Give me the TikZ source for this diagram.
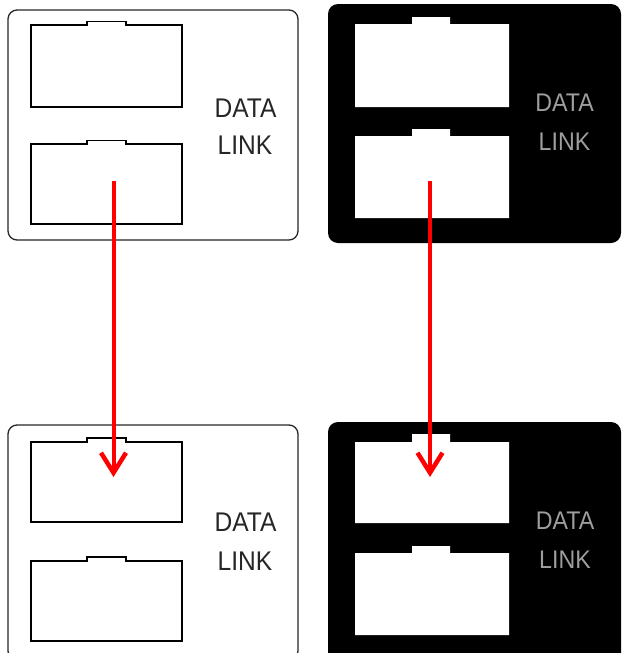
\documentclass[tikz,border=0pt]{standalone}
\usepackage{fontspec}
\setmainfont{Liberation Sans}
\newfontfamily\lblfont[FakeStretch=0.91]{Liberation Sans}
\usetikzlibrary{arrows.meta}
\begin{document}
\begin{tikzpicture}[x=1pt,y=-1pt,
  panelw/.style={draw=black!85,line width=1.3pt,rounded corners=9pt,fill=white},
  panelb/.style={fill=black,rounded corners=10pt},
  slotw/.style={draw=black,line width=1.3pt,fill=white},
  slotb/.style={fill=white},
  lblw/.style={text=black!85,font=\lblfont\fontsize{27}{30}\selectfont,anchor=base,inner sep=0pt},
  lblb/.style={text=black!38,font=\lblfont\fontsize{25.5}{30}\selectfont,anchor=base,inner sep=0pt},
  link/.style={draw=red,line width=4pt,-{Straight Barb[length=20pt,width=25pt,line width=4.5pt]}}]
\useasboundingbox (0,0) rectangle (622,653);
\clip (0,0) rectangle (622,653);

% ---------- top left panel ----------
\draw[panelw] (8,10) rectangle (298,240);
\draw[slotw] (31,25) -- (87,25) -- (87,21.5) -- (126,21.5) -- (126,25) -- (182,25) -- (182,107) -- (31,107) -- cycle;
\draw[slotw] (31,144) -- (87,144) -- (87,140.5) -- (126,140.5) -- (126,144) -- (182,144) -- (182,224) -- (31,224) -- cycle;
\node[lblw] (tlD) at (245.5,117.3) {DATA};
\node[lblw] (tlL) at (245,154) {LINK};

% ---------- top right panel ----------
\fill[panelb] (328,4) rectangle (621,243);
\fill[slotb] (355,24) -- (412,24) -- (412,17) -- (450,17) -- (450,24) -- (509,24) -- (509,107) -- (355,107) -- cycle;
\fill[slotb] (355,136) -- (412,136) -- (412,129) -- (450,129) -- (450,136) -- (509,136) -- (509,218) -- (355,218) -- cycle;
\node[lblb] (trD) at (564.5,111.7) {DATA};
\node[lblb] (trL) at (564.5,150) {LINK};

% ---------- bottom left panel ----------
\draw[panelw] (8,425) rectangle (298,660);
\draw[slotw] (31,442) -- (87,442) -- (87,438) -- (126,438) -- (126,442) -- (182,442) -- (182,522) -- (31,522) -- cycle;
\draw[slotw] (31,561) -- (87,561) -- (87,557) -- (126,557) -- (126,561) -- (182,561) -- (182,641) -- (31,641) -- cycle;
\node[lblw] (blD) at (245.5,531.7) {DATA};
\node[lblw] (blL) at (245,570.7) {LINK};

% ---------- bottom right panel ----------
\fill[panelb] (328,422) rectangle (621,670);
\fill[slotb] (355,442) -- (412,442) -- (412,434) -- (450,434) -- (450,442) -- (509,442) -- (509,523) -- (355,523) -- cycle;
\fill[slotb] (355,553) -- (412,553) -- (412,546) -- (450,546) -- (450,553) -- (509,553) -- (509,635) -- (355,635) -- cycle;
\node[lblb] (brD) at (565,529.3) {DATA};
\node[lblb] (brL) at (565,568.3) {LINK};

% ---------- arrows ----------
\coordinate (a1s) at (113.5,181);
\coordinate (a1e) at (113.5,477);
\coordinate (a2s) at (430,181);
\coordinate (a2e) at (430,477);
\draw[link] (a1s) -- (a1e);
\draw[link] (a2s) -- (a2e);
\end{tikzpicture}
\end{document}
